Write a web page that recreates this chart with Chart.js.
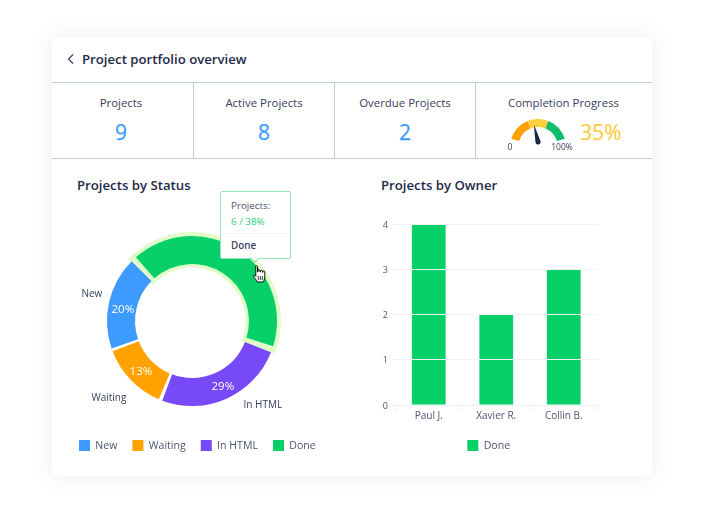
<!DOCTYPE html>
<html><head><meta charset="utf-8">
<script src="https://cdn.jsdelivr.net/npm/chart.js@4"></script>
<style>
html,body{margin:0;padding:0;background:#fff;width:704px;height:512px;overflow:hidden;font-family:"Open Sans",sans-serif;color:#2b3050}
.abs{position:absolute;white-space:nowrap}
#card{position:absolute;left:52px;top:37px;width:600px;height:439px;background:#fff;box-shadow:0 0 22px rgba(60,70,110,.09)}
.hl{position:absolute;background:#bfcbdf}
.lab{font-size:11.4px;line-height:16px;color:#3b4060;text-align:center;transform:translateX(-50%)}
.num{font-size:21px;line-height:28px;color:#3d9bff;text-align:center;transform:translateX(-50%);-webkit-text-stroke:.25px #3d9bff}
.h2{font-size:13.2px;line-height:18px;font-weight:600;color:#23294a}
canvas{position:absolute;display:block}
#tip{position:absolute;left:220px;top:191px;width:69px;height:66px;background:#fff;border:1.3px solid #93e8b8;border-radius:2px}
</style></head><body>
<div id="card"></div>
<svg class="abs" style="left:66px;top:53px" width="10" height="12"><path d="M7 1.5 L2.5 6 L7 10.5" fill="none" stroke="#30365a" stroke-width="1.1"/></svg>
<div class="abs h2" style="left:82px;top:50px">Project portfolio overview</div>
<div class="hl" style="left:52px;top:82px;width:600px;height:1px"></div>
<div class="hl" style="left:52px;top:158px;width:600px;height:1px"></div>
<div class="hl" style="left:193px;top:82px;width:1px;height:77px"></div>
<div class="hl" style="left:334px;top:82px;width:1px;height:77px"></div>
<div class="hl" style="left:475px;top:82px;width:1px;height:77px"></div>
<div id="stats"></div>
<div class="abs h2" style="left:77px;top:176px">Projects by Status</div>
<div class="abs h2" style="left:381px;top:176px">Projects by Owner</div>
<canvas id="donut" width="304" height="290" style="left:40px;top:170px;width:304px;height:290px"></canvas>
<canvas id="bars" width="250" height="246" style="left:360px;top:214px;width:250px;height:246px"></canvas>
<canvas id="gauge" width="70" height="36" style="left:502.5px;top:112px;width:70px;height:36px"></canvas>
<div class="abs" style="left:510px;top:141px;font-size:8.5px;line-height:11px;color:#3b4060;transform:translateX(-50%)" id="g0"></div>
<div class="abs" style="left:562px;top:141px;font-size:8.5px;line-height:11px;color:#3b4060;transform:translateX(-50%)" id="g1"></div>
<div class="abs" style="left:580px;top:117px;font-size:21px;line-height:30px;color:#ffcb45;-webkit-text-stroke:.2px #ffcb45" id="gv"></div>
<div id="tip"></div>
<svg class="abs" style="left:250px;top:256px" width="11" height="7"><path d="M0.5 1.5 L5 6 L9.5 1.5" fill="#fff" stroke="#93e8b8" stroke-width="1.2"/><rect x="1" y="0" width="8" height="2" fill="#fff"/></svg>
<div class="abs" style="left:231px;top:199px;font-size:9.8px;line-height:14px;color:#4a5070">Projects:</div>
<div class="abs" style="left:231px;top:215px;font-size:9.8px;line-height:14px;color:#1fd17a">6 / 38%</div>
<div class="abs" style="left:221px;top:233px;width:69px;height:1px;background:#f2f4f7"></div>
<div class="abs" style="left:231px;top:239px;font-size:9.8px;line-height:14px;font-weight:600;color:#3b4060">Done</div>
<svg class="abs" style="left:252px;top:265px" width="15" height="19" viewBox="0 0 15 19"><path d="M3.5 1.5c0-1 2-1 2 0v5.5h.5v-1.5c0-1 2-1 2 0V7h.5v-1c0-1 2-1 2 0v1.3h.4v-.6c0-1 1.9-1 1.9 0v5.3c0 2-1 3.2-1.2 5H5.2c-.4-1.7-2.3-3.2-3.7-5.4-.6-1 .6-1.9 1.4-1.1l.9 1V1.5z" fill="#fff" stroke="#111" stroke-width="1"/><path d="M6.3 11v4M8.3 11v4M10.3 11v4" stroke="#111" stroke-width=".8"/></svg>
<script>
// Summary tiles
const statNames = ['Projects', 'Active Projects', 'Overdue Projects'];
const statValues = ['9', '8', '2'];
const progressName = 'Completion Progress';
const progressText = '35%';

const statusCategories = ['New', 'Done', 'In HTML', 'Waiting'];
const statusShares = [18.3, 42.8, 25.6, 13.3];
const statusLabels = ['20%', '', '29%', '13%'];
const statusColors = ['#3d9bff', '#08d068', '#7849f7', '#ffa200'];
const statusLegendOrder = ['New', 'Waiting', 'In HTML', 'Done'];
const highlighted = 'Done';

// Bars
const owners = ['Paul J.', 'Xavier R.', 'Collin B.'];
const doneCounts = [4, 2, 3];
const yTicks = [0, 1, 2, 3, 4];

// Gauge
const gaugeBands = [51, 44, 51];
const gaugeColors = ['#ffa200', '#ffcf40', '#10bd6a'];
const gaugeEnds = ['0', '100%'];
const needleValue = 41;

const FONT = '"Open Sans", sans-serif';
const INK = '#4d5470';

const statX = [121, 264, 405];
statNames.forEach((n, i) => {
  document.getElementById('stats').insertAdjacentHTML('beforeend',
    `<div class="abs lab" style="left:${statX[i]}px;top:95px">${n}</div>` +
    `<div class="abs num" style="left:${statX[i]}px;top:118px">${statValues[i]}</div>`);
});
document.getElementById('stats').insertAdjacentHTML('beforeend',
  `<div class="abs lab" style="left:563.5px;top:95px">${progressName}</div>`);
document.getElementById('g0').textContent = gaugeEnds[0];
document.getElementById('g1').textContent = gaugeEnds[1];
document.getElementById('gv').textContent = progressText;

// label nudges relative to each arc's centre point
const innerNudge = { 'New': [0, 4.5], 'In HTML': [2, 1], 'Waiting': [0, 1] };
const outerNudge = { 'New': [-31, -11], 'In HTML': [42, 19], 'Waiting': [-32, 28] };
const SPACING = 5;

const donutDecor = {
  id: 'donutDecor',
  afterLayout(chart) { chart.legend.left += 24; chart.legend.top += 1; },
  beforeDatasetsDraw(chart) {
    const i = statusCategories.indexOf(highlighted);
    const a = chart.getDatasetMeta(0).data[i];
    const c = chart.ctx;
    c.save();
    c.fillStyle = '#e2fcc9';
    c.beginPath();
    c.arc(a.x, a.y, a.outerRadius + SPACING / 2 + 4, a.startAngle - 0.035, a.endAngle + 0.025);
    c.arc(a.x, a.y, a.innerRadius + SPACING / 2 - 3.5, a.endAngle + 0.035, a.startAngle - 0.055, true);
    c.closePath();
    c.fill();
    c.restore();
  },
  afterDatasetsDraw(chart) {
    const c = chart.ctx;
    c.save();
    c.textAlign = 'center';
    c.textBaseline = 'middle';
    chart.getDatasetMeta(0).data.forEach((a, i) => {
      const name = statusCategories[i];
      if (!statusLabels[i]) return;
      const p = a.getCenterPoint();
      c.font = '11.5px ' + FONT;
      c.fillStyle = '#ffffff';
      c.fillText(statusLabels[i], p.x + innerNudge[name][0], p.y + innerNudge[name][1]);
      c.font = '10px ' + FONT;
      c.fillStyle = '#3b4060';
      c.fillText(name, p.x + outerNudge[name][0], p.y + outerNudge[name][1]);
    });
    c.restore();
  }
};

new Chart(document.getElementById('donut'), {
  type: 'doughnut',
  plugins: [donutDecor],
  data: { labels: statusCategories, datasets: [{ data: statusShares, backgroundColor: statusColors, borderWidth: 0, spacing: SPACING }] },
  options: {
    responsive: false, animation: false, events: [],
    radius: 85 - SPACING / 2, cutout: '66%', rotation: 250,
    layout: { padding: { top: 48 } },
    plugins: {
      tooltip: { enabled: false },
      legend: {
        position: 'bottom', align: 'start',
        labels: {
          boxWidth: 11, boxHeight: 11, padding: 15, color: INK,
          font: { family: FONT, size: 10.6 },
          sort: (a, b) => statusLegendOrder.indexOf(a.text) - statusLegendOrder.indexOf(b.text)
        }
      }
    }
  }
});

new Chart(document.getElementById('bars'), {
  type: 'bar',
  plugins: [{ id: 'legendShift', afterLayout(chart) { chart.legend.left += 10; chart.legend.right += 10; chart.legend.top += 1; } }],
  data: { labels: owners, datasets: [{ label: 'Done', data: doneCounts, backgroundColor: '#08d068', barPercentage: 0.5, categoryPercentage: 1 }] },
  options: {
    responsive: false, animation: false, events: [],
    layout: { padding: { top: 10, right: 12.5 } },
    scales: {
      x: {
        afterFit(s) { s.height = 24; },
        border: { color: '#eef1f6' },
        grid: { drawOnChartArea: false, color: '#eef1f6', tickLength: 6 },
        ticks: { color: INK, font: { family: FONT, size: 10 }, padding: -1, maxRotation: 0 }
      },
      y: {
        min: 0, max: 4,
        afterFit(s) { s.width = 35; },
        afterBuildTicks(s) { s.ticks = yTicks.map(v => ({ value: v })); },
        border: { display: false },
        grid: { color: '#eef1f6', z: 1, tickLength: 3 },
        ticks: { color: INK, font: { family: FONT, size: 9 }, padding: 4, labelOffset: 1 }
      }
    },
    plugins: {
      tooltip: { enabled: false },
      legend: {
        position: 'bottom',
        labels: { boxWidth: 11, boxHeight: 11, padding: 10, color: INK, font: { family: FONT, size: 10.6 } }
      }
    }
  }
});

const needle = {
  id: 'needle',
  afterDatasetsDraw(chart) {
    const a = chart.getDatasetMeta(0).data[0];
    const span = chart.options.circumference * Math.PI / 180;
    const start = chart.options.rotation * Math.PI / 180;
    const ang = start + span * needleValue / 100;
    const c = chart.ctx;
    c.save();
    c.translate(a.x, a.y - 5);
    c.rotate(ang);
    c.fillStyle = '#1d2540';
    c.beginPath();
    c.moveTo(0, -18);
    c.lineTo(2.6, 0);
    c.arc(0, 0, 2.6, 0, Math.PI);
    c.closePath();
    c.fill();
    c.restore();
  }
};

new Chart(document.getElementById('gauge'), {
  type: 'doughnut',
  plugins: [needle],
  data: { datasets: [{ data: gaugeBands, backgroundColor: gaugeColors, borderWidth: 0 }] },
  options: {
    responsive: false, animation: false, events: [],
    radius: 28, cutout: '71%', rotation: -73, circumference: 146,
    plugins: { tooltip: { enabled: false }, legend: { display: false } }
  }
});
</script>
</body></html>
